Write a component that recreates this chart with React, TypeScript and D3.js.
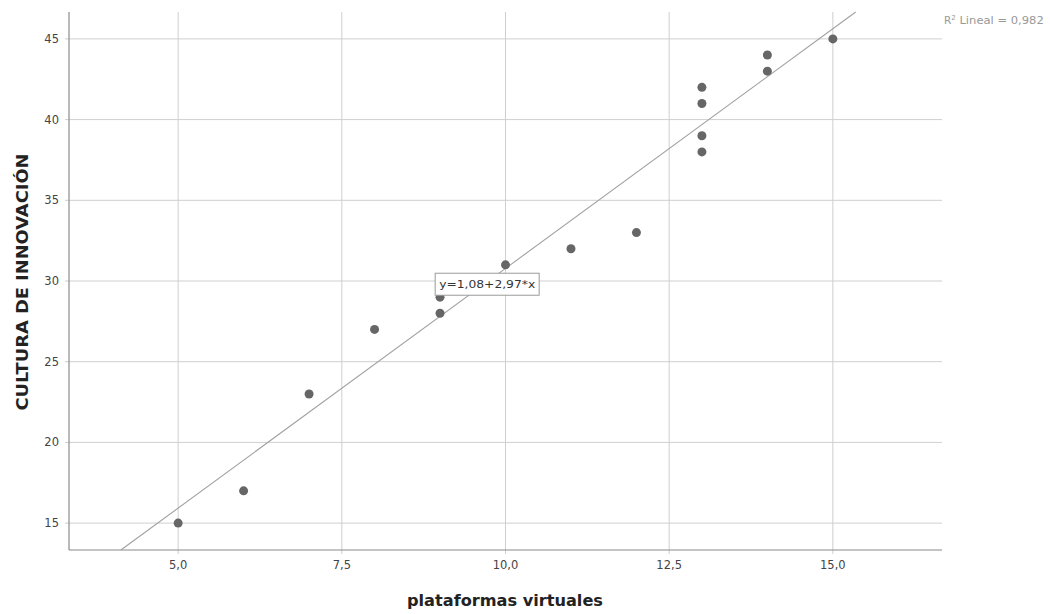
import React from 'react';
import * as d3 from 'd3';

// scatter data: plataformas virtuales vs cultura de innovación
const plataformas = [5, 6, 7, 8, 9, 9, 10, 11, 12, 13, 13, 13, 13, 14, 14, 15];
const cultura = [15, 17, 23, 27, 28, 29, 31, 32, 33, 38, 39, 41, 42, 43, 44, 45];
const xTicks = [5, 7.5, 10, 12.5, 15];
const yTicks = [15, 20, 25, 30, 35, 40, 45];
const intercept = 1.08;
const slope = 2.97;
const fitLabel = 'y=1,08+2,97*x';
const r2Label = 'Lineal = 0,982';

const W = 1050;
const H = 614;
const margin = {top: 12, right: 108, bottom: 64, left: 69};
const font = "'DejaVu Sans', Verdana, sans-serif";

const fmtX = (d: number) => d.toFixed(1).replace('.', ',');

const App: React.FC = () => {
  const iw = W - margin.left - margin.right;
  const ih = H - margin.top - margin.bottom;
  const x = d3.scaleLinear().domain([3.333, 16.667]).range([0, iw]);
  const y = d3.scaleLinear().domain([13.333, 46.667]).range([ih, 0]);

  // fit line clipped to plot area
  const [y0, y1] = y.domain();
  const xa = (y0 - intercept) / slope;
  const xb = (y1 - intercept) / slope;
  const fit = d3.line<[number, number]>()
    .x((d) => x(d[0]))
    .y((d) => y(d[1]));
  const fitPts: [number, number][] = [
    [xa, y0],
    [xb, y1],
  ];

  const lx = x(9.72);
  const ly = y(29.8);

  return (
    <svg
      width={W}
      height={H}
      style={{position: 'absolute', left: 0, top: 0, background: '#fff'}}
      fontFamily={font}
    >
      <g transform={`translate(${margin.left},${margin.top})`}>
        {/* grid */}
        {yTicks.map((t) => (
          <line key={`gy${t}`} x1={-4} x2={iw} y1={y(t)} y2={y(t)} stroke="#cfcfcf" strokeWidth={1} />
        ))}
        {xTicks.map((t) => (
          <line key={`gx${t}`} x1={x(t)} x2={x(t)} y1={0} y2={ih + 4} stroke="#cfcfcf" strokeWidth={1} />
        ))}
        {/* axes */}
        <line x1={0} x2={0} y1={0} y2={ih} stroke="#8a8a8a" strokeWidth={1.2} />
        <line x1={0} x2={iw} y1={ih} y2={ih} stroke="#8a8a8a" strokeWidth={1.2} />
        {yTicks.map((t) => (
          <text key={`ty${t}`} x={-10} y={y(t)} dy="0.35em" textAnchor="end" fontSize={11.5} fill="#444">
            {t}
          </text>
        ))}
        {xTicks.map((t) => (
          <text key={`tx${t}`} x={x(t)} y={ih + 19} textAnchor="middle" fontSize={11.5} fill="#444">
            {fmtX(t)}
          </text>
        ))}
        {/* fit line */}
        <path d={fit(fitPts) || ''} fill="none" stroke="#a0a0a0" strokeWidth={1.1} />
        {/* points */}
        {plataformas.map((v, i) => (
          <circle key={i} cx={x(v)} cy={y(cultura[i])} r={4.5} fill="#666" />
        ))}
        {/* equation label */}
        <rect x={lx - 52} y={ly - 11} width={104} height={22} fill="#fff" stroke="#9a9a9a" strokeWidth={1} />
        <text x={lx} y={ly} dy="0.35em" textAnchor="middle" fontSize={11} fill="#333" textLength={96} lengthAdjust="spacingAndGlyphs">
          {fitLabel}
        </text>
      </g>
      <text x={944} y={24} fontSize={10.5} fill="#999">
        R<tspan dy={-4} fontSize={7}>2</tspan>
        <tspan dy={4} textLength={88} lengthAdjust="spacingAndGlyphs"> {r2Label}</tspan>
      </text>
      <text
        transform={`translate(28,${margin.top + ih / 2 + 1}) rotate(-90)`}
        textAnchor="middle"
        fontSize={15}
        fontWeight="bold"
        fill="#222"
        textLength={257}
        lengthAdjust="spacingAndGlyphs"
      >
        CULTURA DE INNOVACIÓN
      </text>
      <text x={505} y={606} textAnchor="middle" fontSize={15} fontWeight="bold" fill="#222" textLength={196} lengthAdjust="spacingAndGlyphs">
        plataformas virtuales
      </text>
    </svg>
  );
};

export default App;
